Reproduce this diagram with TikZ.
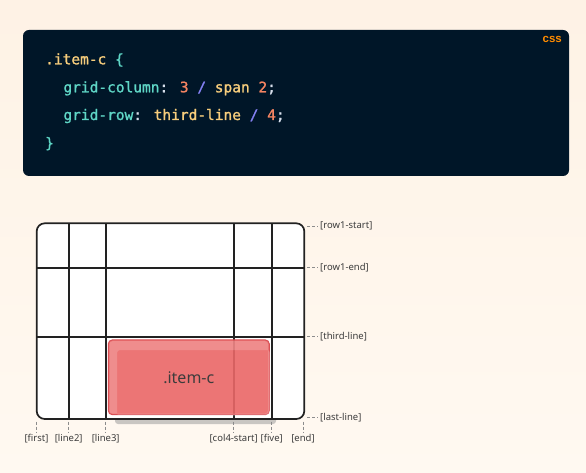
\documentclass[tikz,border=0pt]{standalone}
\usepackage{fontspec}
\setmainfont{Noto Sans}
\newfontfamily\codefont{DejaVu Sans Mono}[FakeBold=1.3]
\newfontfamily\tagfont{Liberation Sans}
\usepackage{xcolor}
\usetikzlibrary{calc}
\definecolor{papertop}{HTML}{FEF2E5}
\definecolor{paperbot}{HTML}{FFF9F1}
\definecolor{codebg}{HTML}{001628}
\definecolor{codeyellow}{HTML}{F7CD7C}
\definecolor{codeteal}{HTML}{5FD6C6}
\definecolor{codenum}{HTML}{F58462}
\definecolor{codeslash}{HTML}{8380F2}
\definecolor{codelight}{HTML}{D6DEEB}
\definecolor{cssorange}{HTML}{FF8C00}
\definecolor{gridink}{HTML}{222222}
\definecolor{tickgray}{HTML}{8C8C8C}
\definecolor{labelgray}{HTML}{3C3C3C}
\definecolor{itemred}{HTML}{EA6767}
\definecolor{itemedge}{HTML}{D94F55}
\definecolor{shadowgray}{HTML}{C9C6C2}
\tikzstyle{gridline}=[line width=1.7pt, draw=gridink]
\tikzstyle{tick}=[draw=tickgray, line width=0.6pt, dash pattern=on 3pt off 2pt]
\tikzstyle{linename}=[font=\fontsize{9.5}{11}\selectfont, text=labelgray, inner sep=0pt]
\tikzstyle{codetext}=[font=\codefont\fontsize{14.5}{17}\selectfont, inner sep=0pt, anchor=base west]
\newcommand{\rowname}[3]{
 \coordinate (#1) at (307,#2);
 \node[linename, anchor=west] (#1-lbl) at (320,#2) {[#3]};
 \draw[tick] (#1) -- ($(#1-lbl.west)+(-2,0)$);
}
\newcommand{\colname}[3]{
 \coordinate (#1) at (#2,421.7);
 \node[linename] (#1-lbl) at (#2,439) {[#3]};
 \draw[tick] (#1) -- ($(#1-lbl.north)+(0,-1.5)$);
}

\begin{document}
\begin{tikzpicture}[x=1pt, y=-1pt]
 \useasboundingbox (0,0) rectangle (586,473);
 \shade[top color=papertop, bottom color=paperbot] (0,0) rectangle (586,473);
%
 \fill[codebg, rounded corners=6pt] (23,30) rectangle (569,176);
 \node[font=\tagfont\bfseries\fontsize{11.5}{13}\selectfont, text=cssorange, inner sep=0pt, anchor=base east] (tag) at (562,42.7) {css};
 \node[codetext] (sel) at (45,64.3) {\color{codeyellow}.item-c \color{codeteal}\{};
 \node[codetext] (col) at (63.3,92.3) {\color{codeteal}grid-column\color{codelight}: \color{codenum}3 \color{codeslash}/ \color{codeyellow}span \color{codenum}2\color{codelight};};
 \node[codetext] (row) at (63.3,120) {\color{codeteal}grid-row\color{codelight}: \color{codeyellow}third-line \color{codeslash}/ \color{codenum}4\color{codelight};};
 \node[codetext] (close) at (45,148) {\color{codeteal}\}};
%
 \fill[shadowgray, rounded corners=3pt] (115,346) rectangle (276,424);
%
 \filldraw[gridline, fill=white, rounded corners=8pt] (36.7,223.3) rectangle (304.3,419);
 \draw[gridline] (68.7,223.3) -- (68.7,419);
 \draw[gridline] (105.7,223.3) -- (105.7,419);
 \draw[gridline] (233.7,223.3) -- (233.7,419);
 \draw[gridline] (271.7,223.3) -- (271.7,419);
 \draw[gridline] (36.7,267.7) -- (304.3,267.7);
 \draw[gridline] (36.7,336.7) -- (304.3,336.7);
%
 \node[fill=itemred, fill opacity=.9, draw=itemedge, line width=1pt, rounded corners=4pt,
   minimum width=161pt, minimum height=74.7pt, inner sep=0pt,
   text opacity=1, text=labelgray, font=\fontsize{16}{18}\selectfont] (itemc) at (188.8,377.3) {.item-c};
 \fill[white, opacity=.18, even odd rule, rounded corners=3pt] (109.5,341.2) rectangle (268,413.5) (117,350) rectangle (270,416);
%
 \rowname{r1}{226}{row1-start}
 \rowname{r2}{267.7}{row1-end}
 \rowname{r3}{336.7}{third-line}
 \rowname{r4}{417.3}{last-line}
%
 \colname{c1}{36.5}{first}
 \colname{c2}{68.7}{line2}
 \colname{c3}{105.7}{line3}
 \colname{c4}{233.7}{col4-start}
 \colname{c5}{271.7}{five}
 \colname{c6}{303}{end}
\end{tikzpicture}
\end{document}
